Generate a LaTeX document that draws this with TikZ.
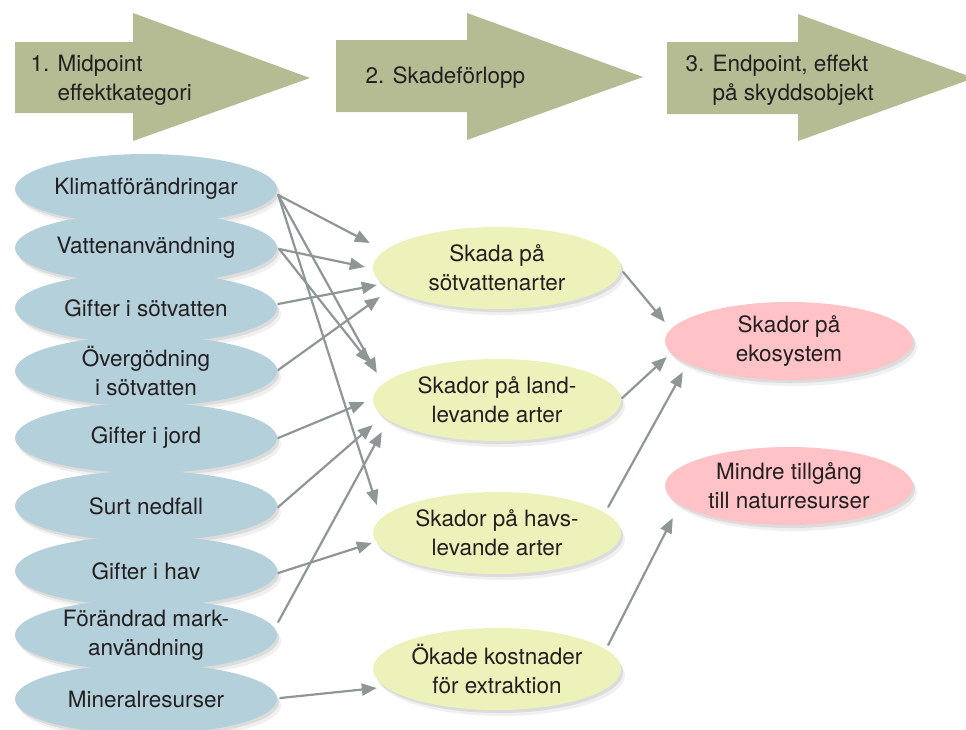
\documentclass[tikz,border=0pt]{standalone}
\usepackage{fontspec}
\setmainfont{TeX Gyre Heros}
\usepackage{xcolor}
\usetikzlibrary{calc, shapes.geometric, shadows, arrows.meta}

\definecolor{bandgreen}{RGB}{181,188,148}
\definecolor{catblue}{RGB}{180,208,219}
\definecolor{harmyellow}{RGB}{237,242,186}
\definecolor{endpink}{RGB}{255,194,198}
\definecolor{linkgray}{RGB}{142,150,150}
\definecolor{inkblack}{RGB}{35,31,32}

\begin{document}
\begin{tikzpicture}[x=1pt, y=-1pt, line cap=round,
    font=\fontsize{22.5}{29}\selectfont,
    every node/.style={text=inkblack},
    blob/.style={ellipse, inner sep=0pt, align=center,
        drop shadow={shadow xshift=2pt, shadow yshift=-3pt, opacity=.18},
        drop shadow={shadow xshift=4pt, shadow yshift=-6pt, opacity=.12}},
    cat/.style={blob, fill=catblue, minimum width=262pt, minimum height=70pt},
    harm/.style={blob, fill=harmyellow, minimum width=248pt, minimum height=82pt},
    endp/.style={blob, fill=endpink, minimum width=248pt, minimum height=78pt},
    conn/.style={draw=linkgray, line width=2.2pt, -{Triangle[length=15pt, width=12pt]}},
    band/.style={fill=bandgreen}]

    \useasboundingbox (0,0) rectangle (966,729);

    % Stage arrows
    \fill[band] (15,42) -- (133,42) -- (133,13) -- (310,78) -- (133,141) -- (133,113) -- (15,113) -- cycle;
    \fill[band] (336,40) -- (467,40) -- (467,13) -- (643,77) -- (467,140) -- (467,112) -- (336,112) -- cycle;
    \fill[band] (667,42) -- (798,42) -- (798,14) -- (974,78) -- (798,141) -- (798,114) -- (667,114) -- cycle;

    \node[anchor=west, align=left] (mid) at (27,80) {1. Midpoint\\\phantom{1. }effektkategori};
    \node[anchor=west] (proc) at (362,78) {2. Skadeförlopp};
    \node[anchor=west, align=left] (endpt) at (682,80) {3. Endpoint, effekt\\\phantom{3. }på skyddsobjekt};

    % Midpoint categories
    \node[cat] (klimat)  at (146,189) {Klimatförändringar};
    \node[cat] (vatten)  at (146,248) {Vattenanvändning};
    \node[cat] (giftsot) at (146,308) {Gifter i sötvatten};
    \node[cat] (overg)   at (146,371) {Övergödning\\i sötvatten};
    \node[cat] (jord)    at (146,438) {Gifter i jord};
    \node[cat] (surt)    at (146,506) {Surt nedfall};
    \node[cat] (hav)     at (146,571) {Gifter i hav};
    \node[cat] (mark)    at (146,635) {Förändrad mark-\\användning};
    \node[cat] (mineral) at (146,699) {Mineralresurser};

    % Damage pathways
    \node[harm] (sotv) at (497,268) {Skada på\\sötvattenarter};
    \node[harm] (land) at (497,400) {Skador på land-\\levande arter};
    \node[harm] (havs) at (497,533) {Skador på havs-\\levande arter};
    \node[harm] (extr) at (497,669) {Ökade kostnader\\för extraktion};

    % Endpoints
    \node[endp] (eko)    at (789,341) {Skador på\\ekosystem};
    \node[endp] (resurs) at (789,486) {Mindre tillgång\\till naturresurser};

    % Links, midpoint -> pathway
    \draw[conn] ($(klimat.east)+(1,6)$) -- ($(sotv.west)+(-3,-25)$);
    \draw[conn] ($(klimat.east)+(1,6)$) -- ($(land.west)+(4,-27)$);
    \draw[conn] ($(klimat.east)+(1,6)$) -- ($(havs.west)+(4,-28)$);
    \draw[conn] ($(vatten.east)+(2,1)$) -- ($(sotv.west)+(-8,-1)$);
    \draw[conn] ($(vatten.east)+(2,1)$) -- ($(land.west)+(-3,-37)$);
    \draw[conn] ($(giftsot.east)+(1,-4)$) -- ($(sotv.west)+(4,17)$);
    \draw[conn] ($(overg.east)+(1,-1)$) -- ($(sotv.west)+(7,29)$);
    \draw[conn] ($(jord.east)+(1,0)$) -- ($(land.west)+(-8,2)$);
    \draw[conn] ($(surt.east)+(1,1)$) -- ($(land.west)+(0,25)$);
    \draw[conn] ($(mark.east)+(1,-13)$) -- ($(land.west)+(9,32)$);
    \draw[conn] ($(hav.east)+(1,2)$) -- ($(havs.west)+(-1,10)$);
    \draw[conn] ($(mineral.east)+(3,-1)$) -- ($(extr.west)+(4,19)$);

    % Links, pathway -> endpoint
    \draw[conn] ($(sotv.east)+(2,4)$) -- ($(eko.west)+(0,-19)$);
    \draw[conn] ($(land.east)+(1,-2)$) -- ($(eko.west)+(2,16)$);
    \draw[conn] ($(havs.east)+(-13,-26)$) -- ($(eko.west)+(18,31)$);
    \draw[conn] ($(extr.east)+(-13,-24)$) -- ($(resurs.west)+(8,32)$);
\end{tikzpicture}
\end{document}
